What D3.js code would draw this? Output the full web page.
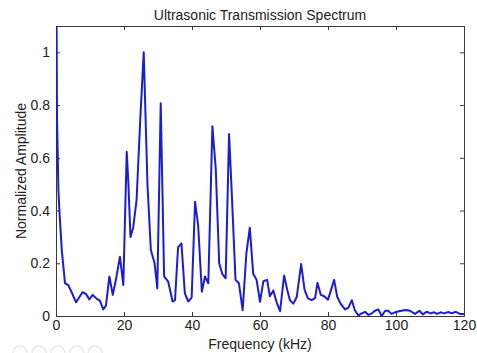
<!DOCTYPE html>
<html>
<head>
<meta charset="utf-8">
<script src="https://cdn.jsdelivr.net/npm/d3@7"></script>
<style>
  html, body { margin: 0; padding: 0; background: #ffffff; }
  svg { display: block; }
  text { font-family: "Liberation Sans", Arial, sans-serif; fill: #222; }
</style>
</head>
<body>
<script>
// Spectrum samples: frequency (kHz) and normalized amplitude
const freqKHz = [
  0, 0.3, 0.7, 1.0, 1.7, 2.65, 3.6, 4.6, 5.9, 7.8, 8.8, 9.8, 10.8, 12.0, 12.9, 13.9,
  14.7, 15.7, 16.7, 17.8, 18.8, 19.8, 20.8, 21.3, 21.9, 22.7, 23.7, 24.8, 25.8, 26.9,
  27.9, 29.0, 29.8, 30.8, 31.8, 33.0, 34.3, 35.0, 35.9, 36.9, 37.9, 38.9, 39.9, 40.9,
  41.8, 42.9, 43.8, 44.8, 46.0, 47.0, 48.0, 48.9, 49.9, 50.9, 51.7, 52.8, 53.8, 54.9,
  56.0, 57.0, 58.0, 59.0, 60.0, 61.0, 62.1, 62.9, 63.9, 64.9, 65.9, 67.1, 68.0, 68.8,
  69.8, 70.8, 72.1, 73.1, 74.1, 75.2, 76.2, 76.9, 77.9, 79.0, 80.0, 80.9, 81.8, 82.7,
  83.8, 85.0, 86.0, 87.0, 87.9, 88.9, 89.9, 90.9, 91.9, 92.9, 93.8, 94.8, 95.8, 96.8,
  97.7, 98.7, 99.7, 101.2, 102.9, 104.1, 105.6, 106.9, 107.9, 109.0, 110.2, 111.2,
  112.1, 113.1, 114.1, 115.4, 116.4, 117.6, 118.8, 120
];
const amplitude = [
  1.6, 0.75, 0.48, 0.40, 0.25, 0.125, 0.117, 0.09, 0.052, 0.09, 0.084, 0.063, 0.08, 0.065, 0.058, 0.025,
  0.04, 0.15, 0.08, 0.15, 0.225, 0.118, 0.623, 0.5, 0.30, 0.335, 0.44, 0.75, 1.0, 0.5,
  0.25, 0.2, 0.105, 0.807, 0.15, 0.13, 0.055, 0.06, 0.26, 0.275, 0.086, 0.055, 0.07, 0.433,
  0.345, 0.092, 0.15, 0.124, 0.72, 0.555, 0.20, 0.16, 0.143, 0.69, 0.465, 0.137, 0.124, 0.022,
  0.238, 0.335, 0.16, 0.137, 0.054, 0.132, 0.137, 0.075, 0.097, 0.052, 0.018, 0.154, 0.1, 0.06,
  0.047, 0.072, 0.197, 0.1, 0.067, 0.06, 0.068, 0.126, 0.08, 0.074, 0.062, 0.099, 0.137, 0.073,
  0.045, 0.025, 0.032, 0.06, 0.022, 0.002, 0.01, 0.016, 0.004, 0.01, 0.02, 0.025, 0.0, 0.02,
  0.02, 0.008, 0.014, 0.019, 0.023, 0.02, 0.008, 0.02, 0.006, 0.016, 0.01, 0.014,
  0.008, 0.014, 0.01, 0.015, 0.01, 0.016, 0.008, 0.008
];
const xTicks = [0, 20, 40, 60, 80, 100, 120];
const yTicks = [0, 0.2, 0.4, 0.6, 0.8, 1];
const titleText = "Ultrasonic Transmission Spectrum";
const xLabelText = "Frequency (kHz)";
const yLabelText = "Normalized Amplitude";

const W = 477, H = 353;
const margin = { top: 26, right: 13, bottom: 37, left: 56 };
const iw = W - margin.left - margin.right;
const ih = H - margin.top - margin.bottom;

const svg = d3.select("body").append("svg").attr("width", W).attr("height", H);

const x = d3.scaleLinear().domain([0, 120]).range([0, iw]);
const y = d3.scaleLinear().domain([0, 1.1]).range([ih, 0]);

const g = svg.append("g").attr("transform", `translate(${margin.left},${margin.top})`);

svg.append("defs").append("clipPath").attr("id", "plotClip")
  .append("rect").attr("width", iw).attr("height", ih);

const axisColor = "#3a3a3a";
const tickLen = 4;

// bottom axis with labels, inward ticks
const xAxis = g.append("g").attr("transform", `translate(0,${ih})`)
  .call(d3.axisBottom(x).tickValues(xTicks).tickSizeInner(-tickLen).tickSizeOuter(0).tickPadding(4).tickFormat(d3.format("d")));
// left axis with labels, inward ticks
const yAxis = g.append("g")
  .call(d3.axisLeft(y).tickValues(yTicks).tickSizeInner(-tickLen).tickSizeOuter(0).tickPadding(6).tickFormat(d => d === 0 ? "0" : d === 1 ? "1" : d3.format(".1f")(d)));
// top and right axes: ticks only
const xTop = g.append("g")
  .call(d3.axisTop(x).tickValues(xTicks).tickSizeInner(-tickLen).tickSizeOuter(0).tickFormat(""));
const yRight = g.append("g").attr("transform", `translate(${iw},0)`)
  .call(d3.axisRight(y).tickValues(yTicks).tickSizeInner(-tickLen).tickSizeOuter(0).tickFormat(""));

[xAxis, yAxis, xTop, yRight].forEach(a => {
  a.select(".domain").attr("stroke", axisColor).attr("stroke-width", 1);
  a.selectAll(".tick line").attr("stroke", axisColor).attr("stroke-width", 1);
  a.selectAll(".tick text").attr("font-size", 14).attr("fill", "#222")
    .style("font-family", "'Liberation Sans', Arial, sans-serif");
});
yAxis.selectAll(".tick text").attr("dy", "0.32em");

// spectrum line
const line = d3.line().x((d, i) => x(freqKHz[i])).y(d => y(d));
g.append("path")
  .datum(amplitude)
  .attr("clip-path", "url(#plotClip)")
  .attr("fill", "none")
  .attr("stroke", "#1c1cd8")
  .attr("stroke-width", 2)
  .attr("stroke-linejoin", "round")
  .attr("d", line);

// title and axis labels
svg.append("text")
  .attr("x", margin.left + iw / 2).attr("y", 20)
  .attr("text-anchor", "middle").attr("font-size", 14)
  .text(titleText);
svg.append("text")
  .attr("x", margin.left + iw / 2).attr("y", 349)
  .attr("text-anchor", "middle").attr("font-size", 14)
  .text(xLabelText);
svg.append("text")
  .attr("transform", `translate(26,${margin.top + ih / 2}) rotate(-90)`)
  .attr("text-anchor", "middle").attr("font-size", 14)
  .text(yLabelText);

// faint row of round buttons in the lower-left corner
const dots = [20, 39, 58, 77, 95];
svg.append("g").selectAll("circle").data(dots).join("circle")
  .attr("cx", d => d).attr("cy", 353)
  .attr("r", 7)
  .attr("fill", "none")
  .attr("stroke", "#e2e2e2")
  .attr("stroke-width", 1.2);
</script>
</body>
</html>
